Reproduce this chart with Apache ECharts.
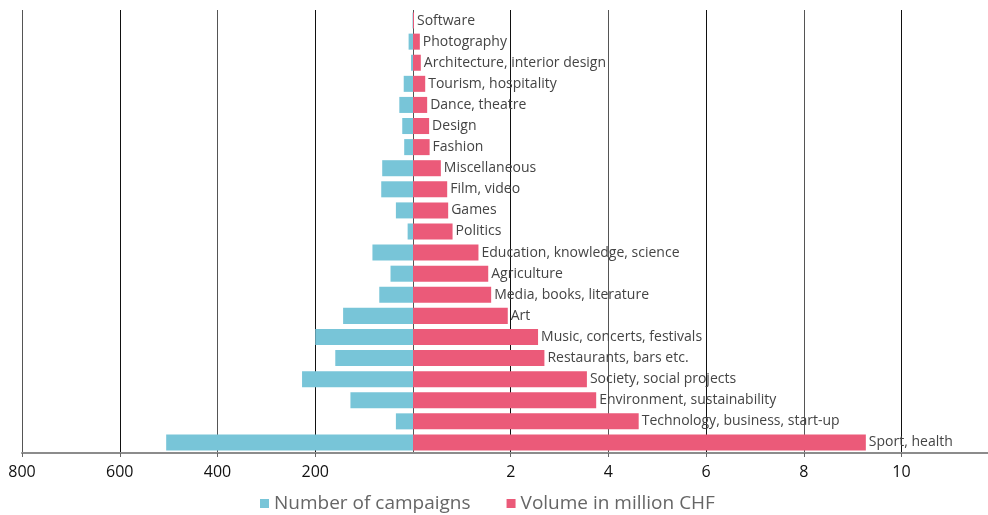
<!DOCTYPE html>
<html>
<head>
<meta charset="utf-8">
<script src="https://cdn.jsdelivr.net/npm/echarts@6/dist/echarts.min.js"></script>
<style>
  html, body { margin: 0; padding: 0; background: #fff; }
  #chart { width: 988px; height: 515px; }
</style>
</head>
<body>
<div id="chart"></div>
<script>
// categories, top to bottom
var categories = [
  "Software", "Photography", "Architecture, interior design", "Tourism, hospitality",
  "Dance, theatre", "Design", "Fashion", "Miscellaneous", "Film, video", "Games",
  "Politics", "Education, knowledge, science", "Agriculture", "Media, books, literature",
  "Art", "Music, concerts, festivals", "Restaurants, bars etc.", "Society, social projects",
  "Environment, sustainability", "Technology, business, start-up", "Sport, health"
];
// number of campaigns (left side)
var campaigns = [1, 9, 4, 19, 28, 22, 18, 63, 65, 35, 11, 83, 46, 69, 143, 200, 159, 227, 128, 35, 505];
// volume in million CHF (right side)
var volume = [0.02, 0.14, 0.16, 0.25, 0.29, 0.33, 0.34, 0.57, 0.70, 0.72, 0.81, 1.34, 1.54, 1.60, 1.94, 2.56, 2.69, 3.56, 3.75, 4.62, 9.27];

var leftTicks = [0, 200, 400, 600, 800];
var rightTicks = [0, 2, 4, 6, 8, 10];

var FONT = "Open Sans";
var BLUE = "#78c5d8";
var PINK = "#eb5a79";

var chart = echarts.init(document.getElementById("chart"));

var option = {
  animation: false,
  textStyle: { fontFamily: FONT },
  legend: {
    top: 489,
    left: 255,
    itemWidth: 9,
    itemHeight: 9,
    itemGap: 36,
    icon: "rect",
    textStyle: { fontSize: 19, color: "#666", fontFamily: FONT },
    data: ["Number of campaigns", "Volume in million CHF"]
  },
  grid: [
    { left: 22, width: 391, top: 10, height: 443, outerBoundsMode: "none" },
    { left: 413, width: 586.2, top: 10, height: 443, outerBoundsMode: "none" }
  ],
  xAxis: [
    {
      gridIndex: 0, type: "value", inverse: true, min: 0, max: 800, interval: 200,
      axisLine: { show: true, lineStyle: { color: "#8c8c8c", width: 2 } },
      axisTick: { show: true, length: 4, lineStyle: { color: "#666" } },
      axisLabel: {
        showMinLabel: false, color: "#111", fontSize: 16, margin: 11,
        formatter: function (v) { return leftTicks.indexOf(v) >= 0 ? v : ""; }
      },
      splitLine: { show: true, lineStyle: { color: ["#555", "#111"], width: 1 } }
    },
    {
      gridIndex: 1, type: "value", min: 0, max: 12, interval: 2,
      axisLine: { show: true, lineStyle: { color: "#8c8c8c", width: 2 } },
      axisTick: { show: true, length: 4, lineStyle: { color: "#666" } },
      axisLabel: {
        showMinLabel: false, showMaxLabel: false, color: "#111", fontSize: 16, margin: 11,
        formatter: function (v) { return rightTicks.indexOf(v) >= 0 ? v : ""; }
      },
      splitLine: { show: true, lineStyle: { color: ["#555", "#111"], width: 1 } }
    }
  ],
  yAxis: [
    {
      gridIndex: 0, type: "category", inverse: true, data: categories,
      axisLine: { show: false }, axisTick: { show: false }, axisLabel: { show: false }
    },
    {
      gridIndex: 1, type: "category", inverse: true, data: categories,
      axisLine: { show: false }, axisTick: { show: false }, axisLabel: { show: false }
    }
  ],
  series: [
    {
      name: "Number of campaigns", type: "bar", xAxisIndex: 0, yAxisIndex: 0,
      data: campaigns, barCategoryGap: "24%",
      itemStyle: { color: BLUE }
    },
    {
      name: "Volume in million CHF", type: "bar", xAxisIndex: 1, yAxisIndex: 1,
      data: volume, barCategoryGap: "24%",
      itemStyle: { color: PINK },
      label: {
        show: true, position: "right", distance: 3,
        color: "#444", fontSize: 14, fontFamily: FONT,
        formatter: function (p) { return categories[p.dataIndex]; }
      }
    }
  ]
};

chart.setOption(option);
</script>
</body>
</html>
